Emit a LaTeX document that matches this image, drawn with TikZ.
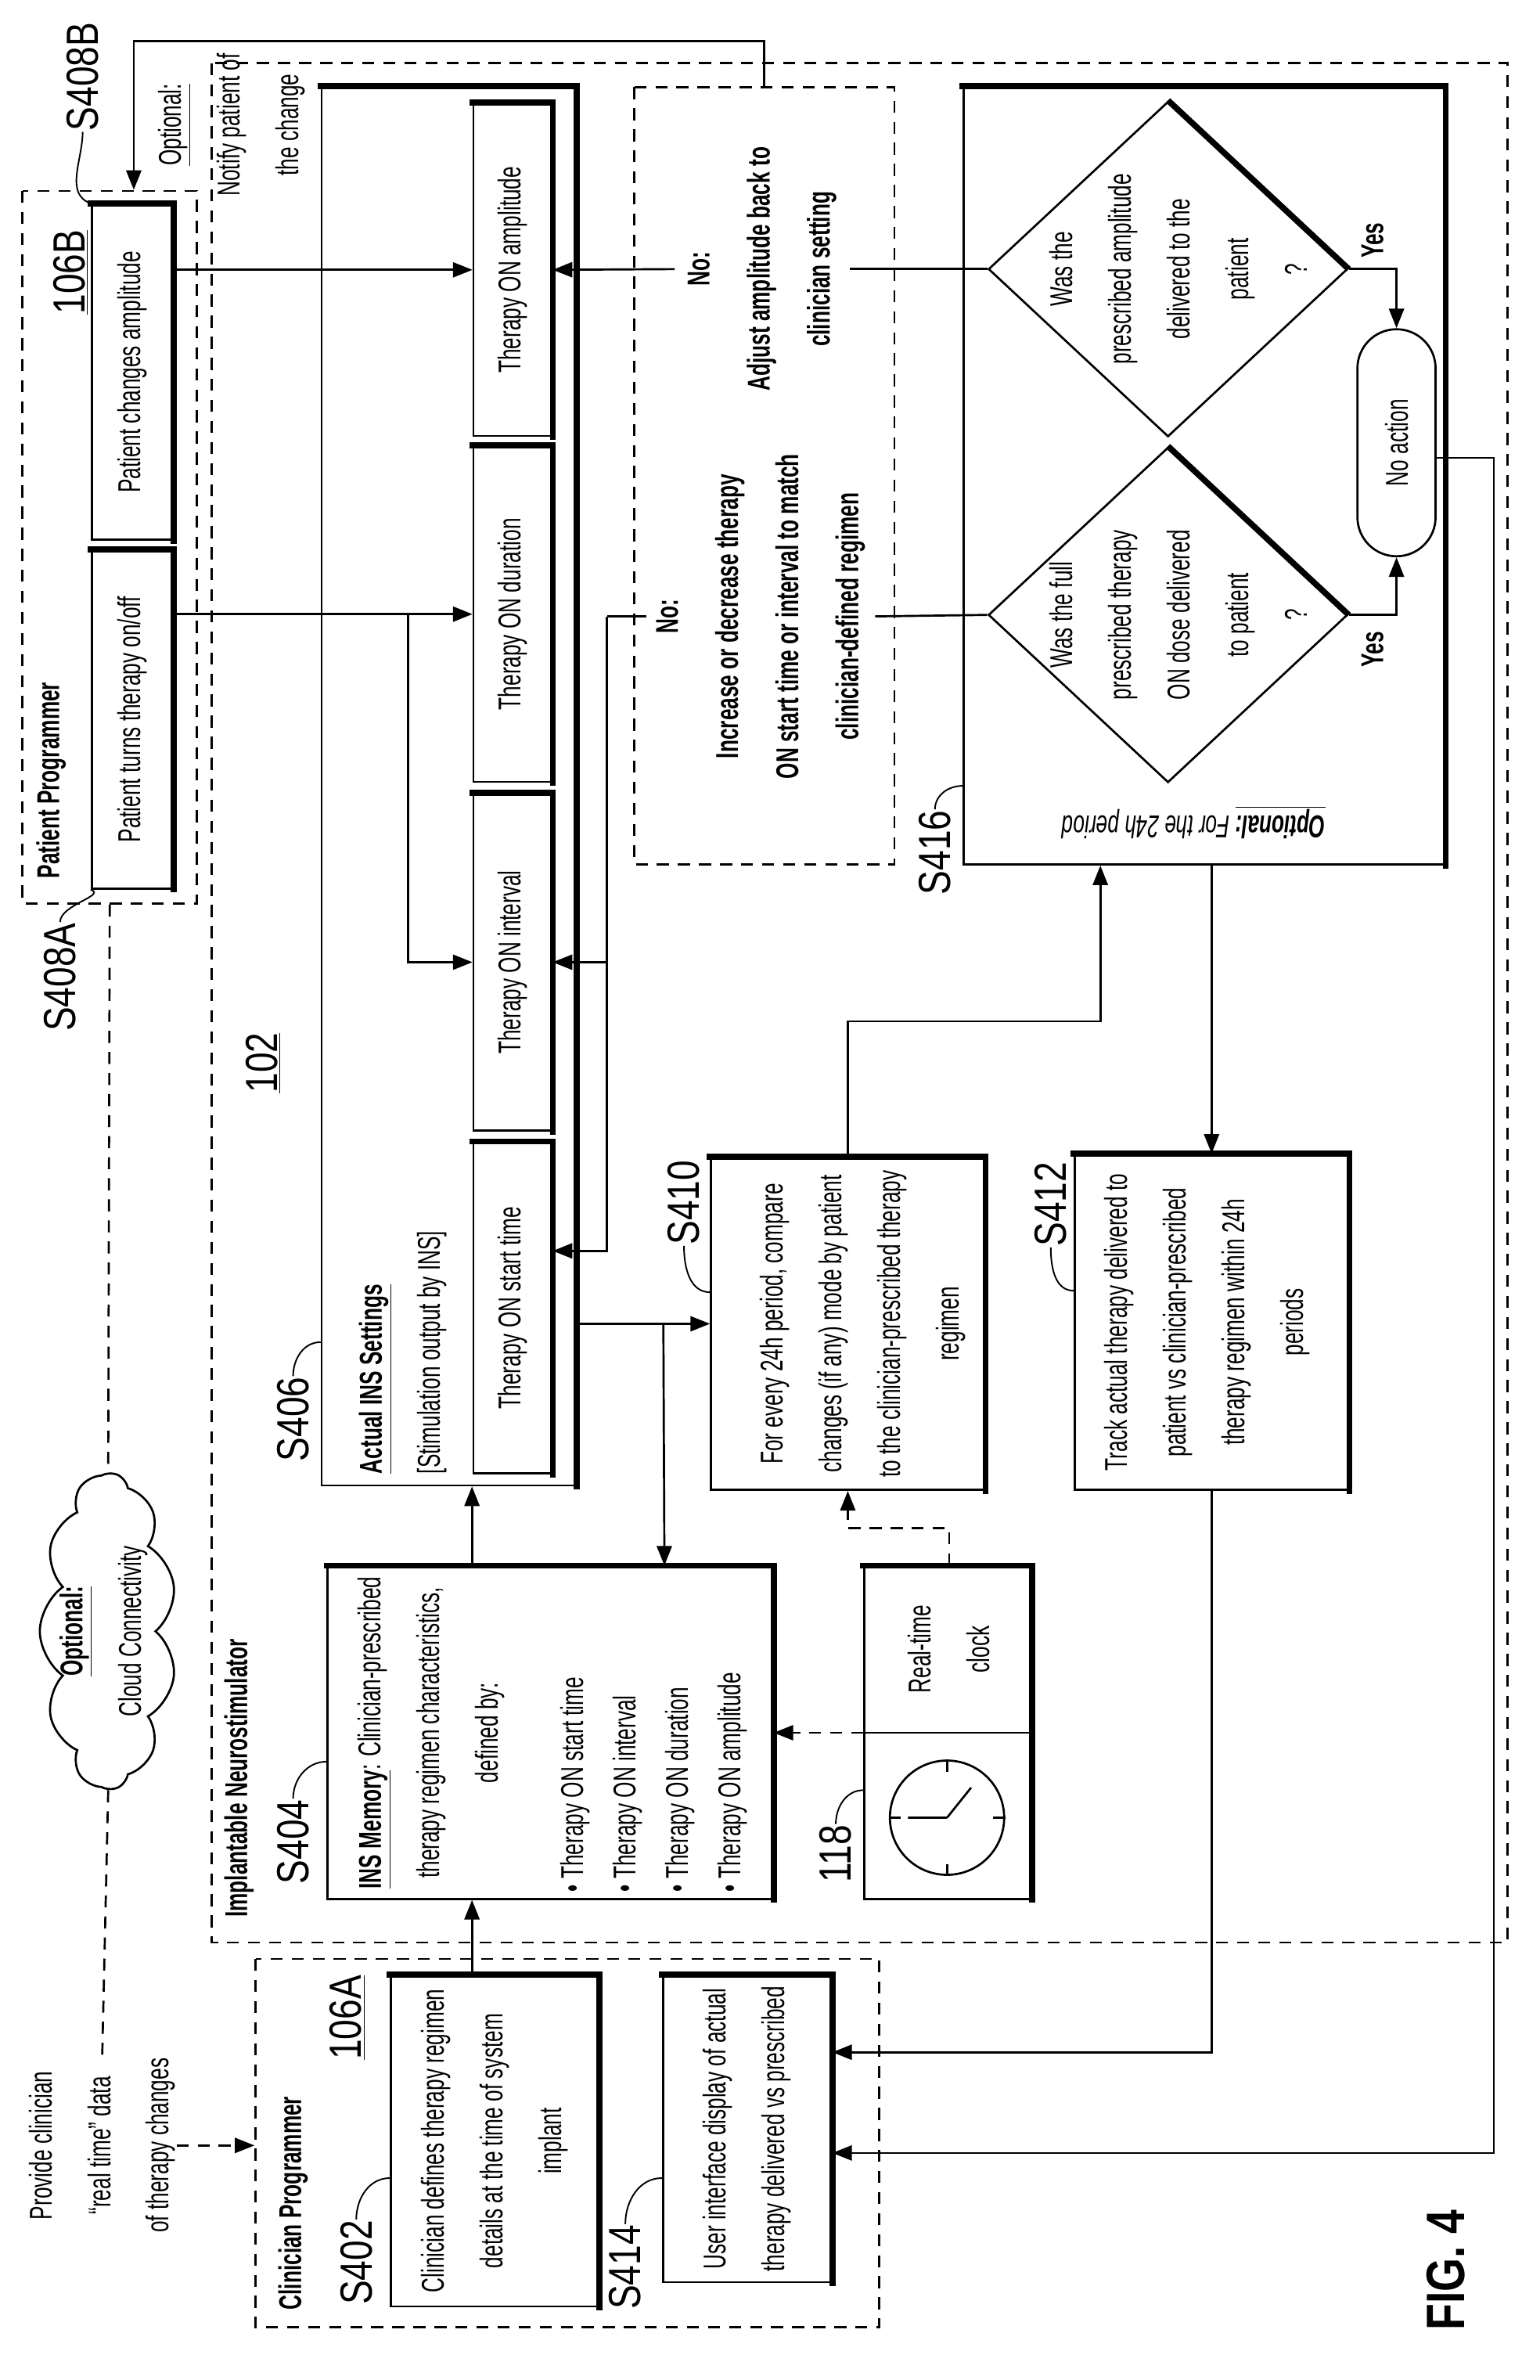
\documentclass[tikz,border=0pt]{standalone}
\usepackage{fontspec}
\setmainfont{Liberation Sans}[FakeStretch=0.65]
\newfontfamily\lblfont{Liberation Sans}[FakeStretch=0.8]
\usetikzlibrary{arrows.meta,shapes.geometric,shapes.symbols}

\begin{document}
\begin{tikzpicture}[x=1pt,y=1pt,line width=1.4pt,
  every node/.style={font=\fontsize{21}{39}\selectfont, inner sep=0pt, align=center},
  arr/.style={-{Triangle[length=13pt,width=10pt]}},
  dsh/.style={dash pattern=on 8pt off 6pt},
  darr/.style={arr,dsh},
  dbox/.style={draw,dsh,rectangle},
  box/.style={draw,rectangle,
    append after command={\pgfextra{\draw[line width=4pt,line cap=rect] (\tikzlastnode.north east) -- (\tikzlastnode.south east) -- (\tikzlastnode.south west);}}},
  dia/.style={draw,diamond,minimum width=223pt,minimum height=239pt,
    append after command={\pgfextra{\draw[line width=4pt] (\tikzlastnode.east) -- (\tikzlastnode.south);}}},
  lbl/.style={font=\lblfont\fontsize{30}{30}\selectfont},
  bld/.style={font=\fontsize{21}{40}\selectfont\bfseries},
  lead/.style={line width=1pt}]
\begin{scope}[rotate=90,transform shape]
\useasboundingbox (0,0) rectangle (1583,1024);

% frames
\node[dbox,minimum width=1250pt,minimum height=862pt] (inframe) at (916,452) {};
\node[dbox,minimum width=474pt,minimum height=116pt] (pp) at (1219,951) {};
\node[dbox,minimum width=245pt,minimum height=415pt] (cp) at (157.5,646.5) {};
\node[dbox,minimum width=517pt,minimum height=173pt] (adjbox) at (1266.5,515.5) {};

% patient programmer
\node[bld,anchor=west] (pplbl) at (998,990) {Patient Programmer};
\node[lbl] (l106b) at (1402,977) {\underline{106B}};
\node[box,minimum width=223pt,minimum height=54pt] (pca) at (1335.5,936) {Patient changes amplitude};
\node[box,minimum width=225pt,minimum height=54pt] (ptt) at (1104.5,936) {Patient turns therapy on/off};
\node[lbl] (s408b) at (1532,969) {S408B};
\node[lbl] (s408a) at (933,984) {S408A};
\node (optnote) at (1500,870) {\underline{Optional:}\\Notify patient of\\the change};

% neurostimulator
\node[bld,anchor=west] (inslbl) at (307,865) {Implantable Neurostimulator};
\node[lbl] (l102) at (876,849) {\underline{102}};
\node[box,minimum width=930pt,minimum height=169pt] (ins) at (1060,725.5) {};
\node[anchor=west,align=left] (institle) at (602,756) {\textbf{\underline{Actual INS Settings}}\\{[}Stimulation output by INS{]}};
\node[lbl] (s406) at (639,829) {S406};
\node[box,minimum width=221pt,minimum height=52pt] (amp) at (1403.5,683) {Therapy ON amplitude};
\node[box,minimum width=223pt,minimum height=52pt] (dur) at (1174.5,683) {Therapy ON duration};
\node[box,minimum width=224pt,minimum height=52pt] (int) at (943,683) {Therapy ON interval};
\node[box,minimum width=220pt,minimum height=52pt] (start) at (713,683) {Therapy ON start time};

\node[bld,inner sep=8pt] (adjtxt) at (1404,517) {No:\\Adjust amplitude back to\\clinician setting};
\node[bld,inner sep=6pt] (inctxt) at (1173,518) {No:\\Increase or decrease therapy\\ON start time or interval to match\\clinician-defined regimen};

\node[box,minimum width=517pt,minimum height=320pt] (s416) at (1266.5,223) {};
\node[lbl] (s416l) at (1016,402) {S416};
\node[dia] (d1) at (1404,247) {};
\node[dia] (d2) at (1174,247) {};
\node (d1t) at (1404,240) {Was the\\prescribed amplitude\\delivered to the\\patient\\?};
\node (d2t) at (1174,240) {Was the full\\prescribed therapy\\ON dose delivered\\to patient\\?};
\node[draw,rounded corners=26pt,minimum width=151pt,minimum height=52pt] (noact) at (1288.5,95) {No action};
\node[bld] (yes1) at (1423,111) {Yes};
\node[bld] (yes2) at (1151,111) {Yes};
\node[rotate=90] (opt24) at (1036,230) {\textbf{\textit{\underline{Optional:}}} \textit{For the 24h period}};

\node[box,minimum width=221pt,minimum height=182pt] (s410) at (702.5,460) {};
\node (s410t) at (702.5,450) {For every 24h period, compare\\changes (if any) mode by patient\\to the clinician-prescribed therapy\\regimen};
\node[lbl] (s410l) at (783,569) {S410};
\node[box,minimum width=223pt,minimum height=182pt] (s412) at (703.5,218) {};
\node (s412t) at (703.5,221) {Track actual therapy delivered to\\patient vs clinician-prescribed\\therapy regimen within 24h\\periods};
\node[lbl] (s412l) at (782,325) {S412};

\node[box,minimum width=221pt,minimum height=296pt] (s404) at (430.5,658) {};
\node (s404t) at (430.5,737) {\textbf{\underline{INS Memory}}: Clinician-prescribed\\therapy regimen characteristics,\\defined by:};
\node[anchor=west,align=left,font=\fontsize{21}{35}\selectfont] (s404b) at (324,589) {\textbullet{} Therapy ON start time\\\textbullet{} Therapy ON interval\\\textbullet{} Therapy ON duration\\\textbullet{} Therapy ON amplitude};
\node[lbl] (s404l) at (358,829) {S404};

\node[box,minimum width=221pt,minimum height=111pt] (clock) at (430.5,393.5) {};
\node (clockt) at (486,393) {Real-time\\clock};
\node[draw,circle,minimum size=76pt] (face) at (374,394) {};
\node[lbl] (l118) at (350,468) {118};

\node[draw,cloud,cloud puffs=11,cloud puff arc=110,aspect=2.3,minimum width=210pt,minimum height=91pt] (cloud) at (498,952) {};
\node (cloudt) at (498,955) {\textbf{\underline{Optional:}}\\Cloud Connectivity};

% clinician programmer
\node[bld,anchor=west] (cplbl) at (46,829) {Clinician Programmer};
\node[lbl] (l106a) at (241,793) {\underline{106A}};
\node[box,minimum width=220pt,minimum height=138pt] (s402) at (159,695) {Clinician defines therapy regimen\\details at the time of system\\implant};
\node[lbl] (s402l) at (78,787) {S402};
\node[box,minimum width=204pt,minimum height=112pt] (s414) at (167,527) {User interface display of actual\\therapy delivered vs prescribed};
\node[lbl] (s414l) at (75,608) {S414};
\node (provide) at (156,956) {Provide clinician\\“real time” data\\of therapy changes};
\node[font=\lblfont\fontsize{36}{36}\selectfont\bfseries] (fig) at (73,62) {FIG. 4};

% clock face
\draw (face.north) -- ++(0,-8) (face.south) -- ++(0,8) (face.east) -- ++(-8,0) (face.west) -- ++(8,0);
\draw (face.center) -- ++(0,26) (face.center) -- ++(20,-16);
\draw (clock.north) -- (clock.south);

% connectors
\draw[arr] (amp.north |- pca.south) -- (amp.north);
\draw[arr] (dur.north |- ptt.south) -- (dur.north);
\draw[arr] ([yshift=43pt]dur.north) -| (int.north);
\draw (d1.north) -- (adjtxt.south);
\draw[arr] (adjtxt.north) -- (amp.south);
\draw (d2.north) -- (inctxt.south);
\draw (inctxt.north) -- ++(0,26) coordinate (inca);
\draw[arr] (inca) -| ([xshift=38pt]start.south);
\draw[arr] (int.south |- inca) -- (int.south);
\draw[arr] (d1.south) |- (noact.east);
\draw[arr] (d2.south) |- (noact.west);
\draw[arr] ([xshift=-10pt]noact.south) -- ++(0,-38) -| ([xshift=-16pt]s414.south);
\draw[arr] (s412.west) -| ([xshift=51pt]s414.south);
\draw[arr] (s416.west |- s412.east) -- (s412.east);
\draw[arr] (s410.east) -- ++(90,0) |- ([yshift=69pt]s416.west);
\draw[arr] (ins.south -| s410.north) -- (s410.north);
\draw[arr] ([yshift=31pt]s410.north) -- ([yshift=-76pt]s404.east);
\coordinate (up404) at ([yshift=52pt]s404.east);
\draw[arr] (up404) -- (up404 -| ins.west);
\draw[arr] ([yshift=15pt]s402.east) -- ([yshift=52pt]s404.west);
\draw[darr] (clock.north) -- (s404.south);
\draw[darr] ([yshift=-1pt]clock.east) -- ++(25,0) |- (s410.west);
\draw[arr] (adjbox.east) -- ++(30,0) |- ([yshift=-16pt]pp.east);
\draw[dsh] (pp.west) -- (cloud.east);
\draw[dsh] (cloud.west) -- (provide.east);
\draw[darr] (provide.south) -- (provide.south |- cp.north);

% leaders
\draw[lead] (s408b.west) to[out=180,in=70] (pca.north east);
\draw[lead] (s408a.east) to[out=0,in=-110] (ptt.north west);
\draw[lead] (s406.east) to[out=0,in=90] ([xshift=96pt]ins.north west);
\draw[lead] (s404l.east) to[out=0,in=90] ([xshift=92pt]s404.north west);
\draw[lead] (s410l.west) to[out=180,in=90] ([xshift=21pt]s410.north);
\draw[lead] (s412l.west) to[out=180,in=90] ([xshift=21pt]s412.north);
\draw[lead] (s416l.east) to[out=0,in=90] ([xshift=53pt]s416.north west);
\draw[lead] (s402l.east) to[out=0,in=90] ([xshift=86pt]s402.north west);
\draw[lead] (s414l.east) to[out=0,in=90] ([xshift=70pt]s414.north west);
\draw[lead] (l118.east) to[out=0,in=90] ([xshift=73pt]clock.north west);
\end{scope}
\end{tikzpicture}
\end{document}
